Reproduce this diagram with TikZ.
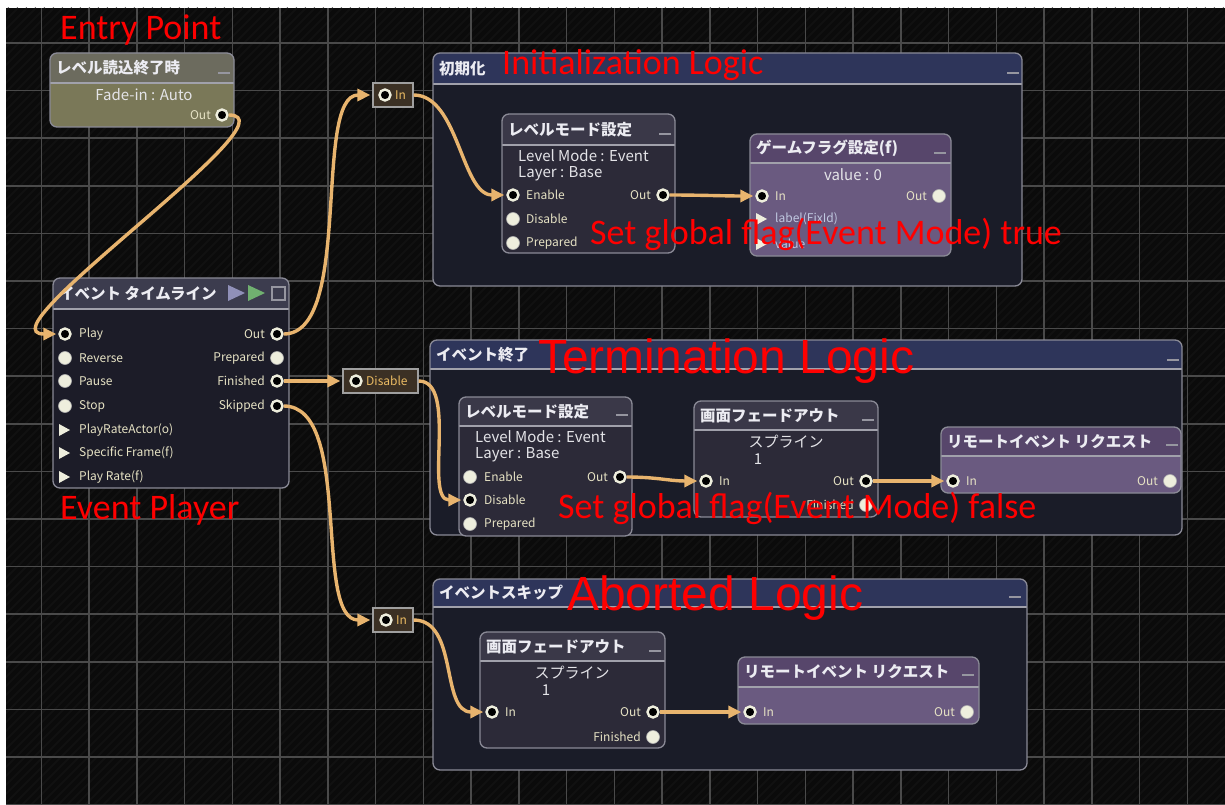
\documentclass[tikz,border=0pt]{standalone}
\usepackage{fontspec}
\setmainfont{Carlito}
\newfontfamily\jpfont{Noto Sans CJK JP}
\newfontfamily\arialfont{Liberation Sans}
\usetikzlibrary{arrows.meta,fit,positioning}

\definecolor{bgdark}{HTML}{0B0B0B}
\definecolor{hatchcol}{HTML}{111111}
\definecolor{gridcol}{HTML}{4A4A4A}
\definecolor{enhead}{HTML}{6C6B5E}
\definecolor{enbody}{HTML}{7A7858}
\definecolor{tlhead}{HTML}{3C3C4E}
\definecolor{tlbody}{HTML}{1C1C28}
\definecolor{grphead}{HTML}{2E355A}
\definecolor{grpbody}{HTML}{1A1C28}
\definecolor{lvhead}{HTML}{3A3848}
\definecolor{lvbody}{HTML}{2C2A38}
\definecolor{plhead}{HTML}{57466B}
\definecolor{plbody}{HTML}{6A5A80}
\definecolor{bordercol}{HTML}{8A8A96}
\definecolor{linkfill}{HTML}{3B3024}
\definecolor{wirecol}{HTML}{E8B46E}
\definecolor{sockcol}{HTML}{EEEEDD}
\definecolor{rowcol}{HTML}{E6E2C4}
\definecolor{titlecol}{HTML}{ECECF2}
\definecolor{paramcol}{HTML}{E4E4E8}
\definecolor{varcol}{HTML}{C0C8E0}
\definecolor{playcol}{HTML}{9090B8}
\definecolor{greencol}{HTML}{70B070}
\definecolor{notered}{HTML}{FF0000}

% one block: name, x1, y1, x2, y2, header bottom, header colour, body colour, title
\newcommand{\blockpanel}[9]{%
  \fill[#8, rounded corners=7pt] (#2,#3) rectangle (#4,#5);
  \fill[#7, rounded corners=7pt] (#2,#3) rectangle (#4,#6);
  \fill[#7] (#2,{#6-8}) rectangle (#4,#6);
  \draw[sepline] (#2,#6) -- (#4,#6);
  \node[fit={(#2,#3) (#4,#5)}, inner sep=0pt, draw=bordercol, line width=1.3pt, rounded corners=7pt] (#1) {};
  \node[titletxt, anchor=west] (#1-t) at ({#2+6},{(#3+#6)/2}) {#9};
}

\tikzset{
  sepline/.style={draw=bordercol!80, line width=1.2pt},
  titletxt/.style={font=\jpfont\bfseries\fontsize{15.5}{16}\selectfont, text=titlecol, inner sep=0pt},
  rowtxt/.style={font=\jpfont\fontsize{12}{14}\selectfont, text=rowcol, inner sep=0pt},
  vartxt/.style={rowtxt, text=varcol},
  paramtxt/.style={font=\jpfont\fontsize{15}{16}\selectfont, text=paramcol, inner sep=0pt},
  sockon/.style={circle, inner sep=0pt, minimum size=11pt, draw=sockcol, line width=2.4pt, fill=black},
  sockoff/.style={circle, inner sep=0pt, minimum size=13pt, fill=sockcol, draw=gray!60, line width=0.6pt},
  linkbox/.style={draw=gray!75, line width=1.2pt, fill=linkfill, minimum height=24pt, inner sep=0pt},
  linktxt/.style={font=\jpfont\fontsize{12}{14}\selectfont, text=wirecol!90!yellow, inner sep=0pt},
  wire/.style={draw=wirecol, line width=3.4pt, -{Triangle[length=13pt,width=12pt]}, shorten >=2pt},
  minimize/.style={draw=bordercol!90, line width=1.2pt},
  note/.style={font=\fontsize{36}{38}\selectfont, text=notered, inner sep=0pt, anchor=base west},
  bignote/.style={font=\arialfont\fontsize{48}{50}\selectfont, text=notered, inner sep=0pt, anchor=base west},
}

\begin{document}
\begin{tikzpicture}[x=1pt, y=-1pt]
  \useasboundingbox (0,0) rectangle (1225,805);
  \fill[white] (0,0) rectangle (1225,805);
  \fill[bgdark] (6,8) rectangle (1225,805);
  \begin{scope}
    \clip (6,8) rectangle (1225,805);
    \foreach \k in {0,9,...,2040}
      \draw[hatchcol, line width=2pt] (\k,8) -- ++(-800,800);
    \foreach \i in {0,...,24}
      \draw[gridcol, line width=1.5pt] ({41.3+47.75*\i},8) -- ++(0,797);
    \foreach \j in {0,...,16}
      \draw[gridcol, line width=1.5pt] (6,{43+47.6*\j}) -- ++(1219,0);
  \end{scope}

  % entry point
  \blockpanel{en}{50}{53}{234}{127}{83}{enhead}{enbody}{レベル読込終了時}
  \node[paramtxt] at (144,95) {Fade-in : Auto};
  \node[sockon] (en-out) at (222,115) {};
  \node[rowtxt, anchor=east] at (211,115) {Out};

  % event player
  \blockpanel{tl}{53}{278}{289}{488}{309}{tlhead}{tlbody}{イベント タイムライン}
  \fill[playcol] (228,285) -- (245,293) -- (228,301) -- cycle;
  \fill[greencol] (248,285) -- (265,293) -- (248,301) -- cycle;
  \draw[bordercol!90, line width=1.2pt] (272,287) rectangle (285,300);
  \foreach \lab/\yy/\kind in {Play/334/on, Reverse/358/off, Pause/381/off, Stop/406/off} {
    \node[sock\kind] (tl-\lab) at (65,\yy) {};
    \node[rowtxt, anchor=west] at (79,\yy) {\lab};
  }
  \foreach \lab/\yy/\kind in {Out/334/on, Prepared/358/off, Finished/381/on, Skipped/406/on} {
    \node[sock\kind] (tl-r-\lab) at (277,\yy) {};
    \node[rowtxt, anchor=east] at (265,\yy) {\lab};
  }
  \foreach \lab/\yy in {{PlayRateActor(o)}/430, {Specific Frame(f)}/453, {Play Rate(f)}/477} {
    \fill[sockcol] (59,{\yy-6}) -- ++(11,6) -- ++(-11,6) -- cycle;
    \node[rowtxt, anchor=west] at (79,\yy) {\lab};
  }

  % initialization group
  \blockpanel{gi}{433}{53}{1022}{286}{84}{grphead}{grpbody}{初期化}
  \blockpanel{lv1}{502}{114}{675}{253}{145}{lvhead}{lvbody}{レベルモード設定}
  \node[paramtxt, anchor=west] at (518,156) {Level Mode : Event};
  \node[paramtxt, anchor=west] at (518,174) {Layer : Base};
  \foreach \lab/\yy/\kind in {Enable/195/on, Disable/219/off, Prepared/243/off} {
    \node[sock\kind] (lv1-\lab) at (513,\yy) {};
    \node[rowtxt, anchor=west] at (526,\yy) {\lab};
  }
  \node[sockon] (lv1-out) at (663,195) {};
  \node[rowtxt, anchor=east] at (651,195) {Out};

  \blockpanel{fl}{750}{134}{951}{256}{163}{plhead}{plbody}{ゲームフラグ設定(f)}
  \node[paramtxt] at (853,175) {value : 0};
  \node[sockon] (fl-in) at (762,196) {};
  \node[rowtxt, anchor=west] at (775,196) {In};
  \node[sockoff] (fl-out) at (939,196) {};
  \node[rowtxt, anchor=east] at (927,196) {Out};
  \foreach \lab/\yy in {{label(FixId)}/219, value/244} {
    \fill[sockcol] (756,{\yy-6}) -- ++(11,6) -- ++(-11,6) -- cycle;
    \node[vartxt, anchor=west] at (775,\yy) {\lab};
  }

  % termination group
  \blockpanel{gt}{430}{340}{1182}{535}{369}{grphead}{grpbody}{イベント終了}
  \blockpanel{lv2}{459}{397}{632}{536}{426}{lvhead}{lvbody}{レベルモード設定}
  \node[paramtxt, anchor=west] at (475,437) {Level Mode : Event};
  \node[paramtxt, anchor=west] at (475,455) {Layer : Base};
  \foreach \lab/\yy/\kind in {Enable/477/off, Disable/500/on, Prepared/524/off} {
    \node[sock\kind] (lv2-\lab) at (470,\yy) {};
    \node[rowtxt, anchor=west] at (484,\yy) {\lab};
  }
  \node[sockon] (lv2-out) at (620,477) {};
  \node[rowtxt, anchor=east] at (608,477) {Out};

  \blockpanel{fd1}{694}{401}{878}{517}{430}{lvhead}{lvbody}{画面フェードアウト}
  \node[paramtxt] at (786,442) {スプライン};
  \node[paramtxt] at (758,459) {1};
  \node[sockon] (fd1-in) at (706,481) {};
  \node[rowtxt, anchor=west] at (719,481) {In};
  \node[sockon] (fd1-out) at (866,481) {};
  \node[rowtxt, anchor=east] at (854,481) {Out};
  \node[sockoff] (fd1-fin) at (866,505) {};
  \node[rowtxt, anchor=east] at (854,505) {Finished};

  \blockpanel{rm1}{941}{427}{1181}{493}{456}{plhead}{plbody}{リモートイベント リクエスト}
  \node[sockon] (rm1-in) at (953,481) {};
  \node[rowtxt, anchor=west] at (966,481) {In};
  \node[sockoff] (rm1-out) at (1170,481) {};
  \node[rowtxt, anchor=east] at (1158,481) {Out};

  % aborted group
  \blockpanel{ga}{433}{579}{1027}{770}{607}{grphead}{grpbody}{イベントスキップ}
  \blockpanel{fd2}{480}{632}{665}{748}{661}{lvhead}{lvbody}{画面フェードアウト}
  \node[paramtxt] at (572,673) {スプライン};
  \node[paramtxt] at (546,690) {1};
  \node[sockon] (fd2-in) at (492,712) {};
  \node[rowtxt, anchor=west] at (505,712) {In};
  \node[sockon] (fd2-out) at (653,712) {};
  \node[rowtxt, anchor=east] at (641,712) {Out};
  \node[sockoff] (fd2-fin) at (653,737) {};
  \node[rowtxt, anchor=east] at (641,737) {Finished};

  \blockpanel{rm2}{738}{657}{979}{724}{687}{plhead}{plbody}{リモートイベント リクエスト}
  \node[sockon] (rm2-in) at (750,712) {};
  \node[rowtxt, anchor=west] at (763,712) {In};
  \node[sockoff] (rm2-out) at (967,712) {};
  \node[rowtxt, anchor=east] at (955,712) {Out};

  % minimize marks
  \foreach \x/\y in {224/73, 665/134, 940/153, 1013/73, 1173/360, 622/415, 868/420, 1172/445, 1015/597, 655/651, 968/675}
    \draw[minimize] ({\x-6},\y) -- ({\x+6},\y);

  % group inputs
  \node[linkbox, minimum width=40pt] (initIn) at (393,95) {};
  \node[sockon] at (385,95) {};
  \node[linktxt, anchor=west] at (395,95) {In};
  \node[linkbox, minimum width=75pt] (disIn) at (380.5,381) {};
  \node[sockon] at (356,381) {};
  \node[linktxt, anchor=west] at (366,381) {Disable};
  \node[linkbox, minimum width=40pt] (abIn) at (393,620) {};
  \node[sockon] at (386,620) {};
  \node[linktxt, anchor=west] at (396,620) {In};

  % wires
  \draw[wire] (en-out.east) .. controls +(72,0) and +(-80,0) .. (tl-Play.west);
  \draw[wire] (tl-r-Out.east) .. controls +(70,0) and +(-60,0) .. (initIn.west);
  \draw[wire] (tl-r-Finished.east) -- (disIn.west);
  \draw[wire] (tl-r-Skipped.east) .. controls +(70,0) and +(-60,0) .. (abIn.west);
  \draw[wire] (initIn.east) .. controls +(45,0) and +(-45,0) .. (lv1-Enable.west);
  \draw[wire] (lv1-out.east) .. controls +(30,0) and +(-30,0) .. (fl-in.west);
  \draw[wire] (disIn.east) .. controls +(40,0) and +(-40,0) .. (lv2-Disable.west);
  \draw[wire] (lv2-out.east) .. controls +(30,0) and +(-30,0) .. (fd1-in.west);
  \draw[wire] (fd1-out.east) -- (rm1-in.west);
  \draw[wire] (abIn.east) .. controls +(45,0) and +(-45,0) .. (fd2-in.west);
  \draw[wire] (fd2-out.east) -- (rm2-in.west);

  % notes
  \node[note] at (60,40) {Entry Point};
  \node[note] at (60,519) {Event Player};
  \node[note] at (502,75) {Initialization Logic};
  \node[note] at (590,244) {Set global flag(Event Mode) true};
  \node[note] at (558,518) {Set global flag(Event Mode) false};
  \node[bignote] at (538,373) {Termination Logic};
  \node[bignote] at (567,610) {Aborted Logic};
\end{tikzpicture}
\end{document}
